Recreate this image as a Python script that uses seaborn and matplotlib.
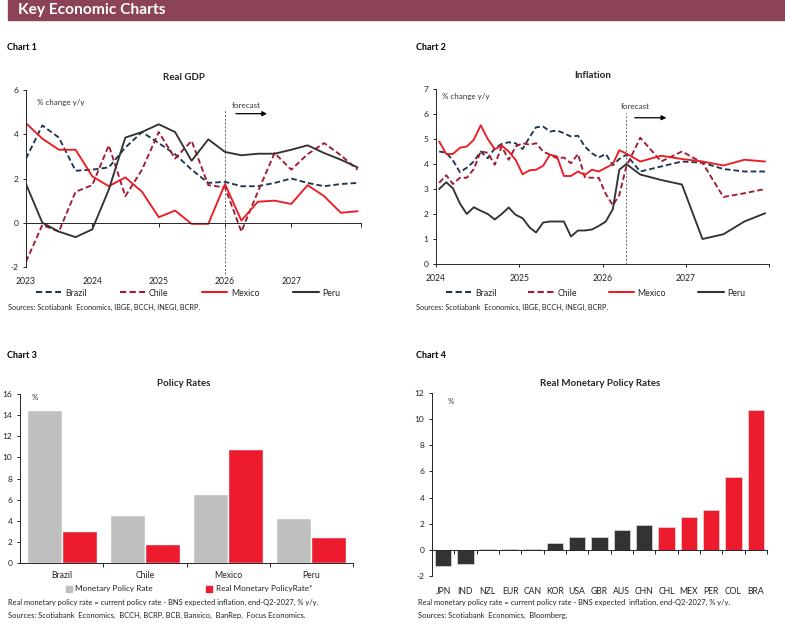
import numpy as np
import pandas as pd
import matplotlib
matplotlib.use('Agg')
import matplotlib.pyplot as plt
import matplotlib.dates as mdates
from matplotlib.lines import Line2D
from matplotlib.patches import Patch, Rectangle
from matplotlib.ticker import FixedLocator, MultipleLocator
import seaborn as sns

# ==========================================
# DATA
# ==========================================
countries = ['Brazil', 'Chile', 'Mexico', 'Peru']

# Chart 1 - Real GDP, % y/y, quarterly (forecast from 2026)
gdp_dates = pd.date_range('2023-01-01', periods=21, freq='QS')
gdp_brazil = [2.9, 4.4, 3.85, 2.35, 2.4, 2.5, 3.4, 4.1, 3.6, 3.1, 2.4, 1.8, 1.85,
              1.65, 1.65, 1.8, 2.0, 1.8, 1.65, 1.75, 1.8]
gdp_chile = [-1.76, -0.1, -0.4, 1.4, 1.7, 3.5, 1.2, 2.4, 4.1, 2.9, 3.7, 1.7, 1.6,
             -0.4, 1.4, 3.15, 2.4, 3.1, 3.6, 3.05, 2.4]
gdp_mexico = [4.5, 3.8, 3.3, 3.3, 2.1, 1.65, 2.05, 1.4, 0.25, 0.55, -0.05, -0.05, 1.75,
              0.1, 0.95, 1.0, 0.85, 1.7, 1.2, 0.45, 0.52]
gdp_peru = [1.75, 0.0, -0.4, -0.65, -0.3, 1.5, 3.85, 4.1, 4.45, 4.1, 2.8, 3.77, 3.2,
            3.05, 3.12, 3.12, 3.3, 3.5, 3.15, 2.85, 2.5]
gdp_forecast_start = '2026-01-01'

# Chart 2 - Inflation, % y/y: monthly history then quarterly forecast
cpi_hist_dates = pd.date_range('2024-01-01', periods=28, freq='MS') + pd.Timedelta(days=14)
cpi_fcst_dates = pd.date_range('2026-06-01', periods=7, freq='3MS') + pd.Timedelta(days=14)
cpi_brazil_hist = [4.5, 4.45, 4.15, 3.67, 3.85, 4.1, 4.5, 4.23, 4.63, 4.8, 4.87, 4.83, 4.6,
                   5.08, 5.47, 5.5, 5.3, 5.34, 5.23, 5.1, 5.13, 4.7, 4.43, 4.26, 4.4, 3.95, 4.2, 4.37]
cpi_brazil_fcst = [3.7, 3.9, 4.1, 4.05, 3.8, 3.7, 3.7]
cpi_chile_hist = [3.25, 3.55, 3.2, 3.45, 3.45, 3.8, 4.5, 4.45, 3.97, 4.7, 4.17, 4.7, 4.83,
                  4.77, 4.83, 4.5, 4.37, 4.23, 4.26, 4.03, 4.4, 3.47, 3.45, 3.45, 2.8, 2.35, 2.75, 3.9]
cpi_chile_fcst = [5.05, 4.1, 4.5, 4.05, 2.68, 2.83, 3.0]
cpi_mexico_hist = [4.9, 4.4, 4.4, 4.65, 4.7, 4.97, 5.55, 5.0, 4.59, 4.74, 4.5, 4.17, 3.59,
                   3.75, 3.77, 3.93, 4.37, 4.3, 3.52, 3.52, 3.7, 3.56, 3.77, 3.7, 3.85, 4.0, 4.55, 4.42]
cpi_mexico_fcst = [4.1, 4.33, 4.2, 4.1, 3.94, 4.17, 4.1]
cpi_peru_hist = [3.0, 3.27, 3.03, 2.42, 2.0, 2.27, 2.13, 2.0, 1.78, 2.0, 2.26, 1.97, 1.83,
                 1.46, 1.26, 1.66, 1.7, 1.7, 1.7, 1.1, 1.34, 1.34, 1.38, 1.52, 1.7, 2.2, 3.77, 4.0]
cpi_peru_fcst = [3.58, 3.36, 3.18, 1.0, 1.19, 1.7, 2.03]
cpi_forecast_start = '2026-04-15'

# Chart 3 - Policy rates, %
policy_rate = [14.5, 4.5, 6.5, 4.25]
real_policy_rate = [3.0, 1.8, 10.75, 2.5]

# Chart 4 - Real monetary policy rates, %
rmpr_codes = ['JPN', 'IND', 'NZL', 'EUR', 'CAN', 'KOR', 'USA', 'GBR', 'AUS', 'CHN',
              'CHL', 'MEX', 'PER', 'COL', 'BRA']
rmpr_values = [-1.2, -1.05, 0.05, 0.05, 0.1, 0.55, 0.95, 1.02, 1.55, 1.93,
               1.78, 2.53, 3.05, 5.6, 10.7]
latam_codes = ['CHL', 'MEX', 'PER', 'COL', 'BRA']

# ==========================================
# STYLE
# ==========================================
sns.set_style('ticks')
plt.rcParams['font.family'] = ['Lato', 'DejaVu Sans']
plt.rcParams['axes.unicode_minus'] = False
plt.rcParams['axes.linewidth'] = 0.7
plt.rcParams['xtick.major.width'] = 0.7
plt.rcParams['ytick.major.width'] = 0.7
plt.rcParams['xtick.minor.width'] = 0.7

NAVY, DKRED, RED, DKGRAY = '#1E3652', '#A31A2E', '#EC1C24', '#333333'
BAR_RED, BAR_GRAY, BAR_DARK = '#EC1C2E', '#BFBFBF', '#333333'
TXT = '#222222'
W, H = 785, 626

fig = plt.figure(figsize=(W / 100, H / 100), dpi=100)


def fx(x):
    return x / W


def fy(y):
    return 1 - y / H


def box(l, t, r, b):
    return [fx(l), fy(b), (r - l) / W, (b - t) / H]


def style_axis(ax):
    sns.despine(ax=ax, top=True, right=True)
    ax.tick_params(axis='y', direction='out', length=2.5, labelsize=6.0, pad=3, colors=TXT)
    ax.tick_params(axis='x', labelsize=6.2, colors=TXT)
    ax.set_xlabel('')
    ax.set_ylabel('')


# header
fig.patches.append(Rectangle((fx(8), fy(20)), 1 - fx(8), 20 / H, transform=fig.transFigure,
                             color='#8C4357', zorder=0))
fig.text(fx(18), fy(10), 'Key Economic Charts', color='white', fontsize=11.2,
         fontweight='bold', va='center')
for label, x, y in [('Chart 1', 7, 47), ('Chart 2', 416, 47), ('Chart 3', 7, 355), ('Chart 4', 416, 355)]:
    fig.text(fx(x), fy(y), label, fontsize=6.5, fontweight='bold', va='center', color='black')

series_style = [('Brazil', NAVY, (0, (3, 1.6))), ('Chile', DKRED, (0, (3, 1.6))),
                ('Mexico', RED, '-'), ('Peru', DKGRAY, '-')]


def line_legend(ax, x0, x1, yc):
    handles = [Line2D([], [], color=c, ls=ls, lw=1.5) for _, c, ls in series_style]
    ax.legend(handles, [n for n, _, _ in series_style], loc='center left',
              bbox_to_anchor=(fx(x0), fy(yc + 6), fx(x1) - fx(x0), 12 / H),
              bbox_transform=fig.transFigure, ncol=4, mode='expand', frameon=False,
              handlelength=2.9, handletextpad=0.4, fontsize=6.3, borderaxespad=0,
              borderpad=0, labelcolor=TXT)


# ==========================================
# CHART 1 - REAL GDP
# ==========================================
ax1 = fig.add_axes(box(26, 90, 361, 267))
for (name, color, ls), vals in zip(series_style, [gdp_brazil, gdp_chile, gdp_mexico, gdp_peru]):
    sns.lineplot(x=gdp_dates, y=vals, ax=ax1, color=color, linestyle=ls, linewidth=1.35)
style_axis(ax1)
ax1.set_ylim(-2, 6)
ax1.yaxis.set_major_locator(MultipleLocator(2))
ax1.set_xlim(pd.Timestamp('2023-01-01'), pd.Timestamp('2028-01-20'))
ax1.xaxis.set_major_locator(mdates.YearLocator())
ax1.xaxis.set_major_formatter(mdates.DateFormatter('%Y'))
# zero line with ticks pointing down, labels at the bottom
ax1.spines['top'].set_visible(True)
ax1.spines['top'].set_position(('data', 0))
ax1.spines['bottom'].set_visible(False)
ax1.tick_params(axis='x', bottom=False, top=True, direction='in', length=3, pad=7)
ax1.set_xticks(ax1.get_xticks()[:-1].tolist() + [mdates.date2num(pd.Timestamp('2028-01-20'))])
ax1.set_xticklabels(['2023', '2024', '2025', '2026', '2027', ''])
fc1 = pd.Timestamp(gdp_forecast_start)
ax1.plot([fc1, fc1], [-2.3, 5.1], ls=(0, (2.5, 2)), color='#555555', lw=0.6, clip_on=False)
ax1.annotate('', xy=(pd.Timestamp('2026-09-05'), 4.93), xytext=(pd.Timestamp('2026-02-15'), 4.93),
             arrowprops=dict(arrowstyle='-|>', color='black', lw=0.9, mutation_scale=7))
ax1.text(pd.Timestamp('2026-02-10'), 5.28, 'forecast', fontsize=5.8, color='#333333', va='center')
fig.text(fx(37), fy(103), '% change y/y', fontsize=5.8, color='#333333', va='center')
fig.text(fx(184), fy(77), 'Real GDP', fontsize=7.0, fontweight='bold', ha='center', va='center')
line_legend(ax1, 36, 340, 293)
fig.text(fx(8), fy(307), 'Sources: Scotiabank  Economics, IBGE, BCCH, INEGI, BCRP.',
         fontsize=5.3, color=TXT, va='center')

# ==========================================
# CHART 2 - INFLATION
# ==========================================
ax2 = fig.add_axes(box(436, 89, 769, 264))
cpi_data = [(cpi_brazil_hist, cpi_brazil_fcst), (cpi_chile_hist, cpi_chile_fcst),
            (cpi_mexico_hist, cpi_mexico_fcst), (cpi_peru_hist, cpi_peru_fcst)]
cpi_dates = cpi_hist_dates.append(cpi_fcst_dates)
for (name, color, ls), (hist, fcst) in zip(series_style, cpi_data):
    sns.lineplot(x=cpi_dates, y=list(hist) + list(fcst), ax=ax2, color=color,
                 linestyle=ls, linewidth=1.35)
style_axis(ax2)
ax2.set_ylim(0, 7)
ax2.yaxis.set_major_locator(MultipleLocator(1))
ax2.set_xlim(pd.Timestamp('2024-01-01'), pd.Timestamp('2028-01-01'))
ax2.xaxis.set_major_locator(mdates.YearLocator())
ax2.xaxis.set_major_formatter(mdates.DateFormatter('%Y'))
ax2.set_xticks(ax2.get_xticks())
ax2.set_xticklabels(['2024', '2025', '2026', '2027', ''])
ax2.tick_params(axis='x', direction='out', length=2.5, pad=5)
fc2 = pd.Timestamp(cpi_forecast_start)
ax2.plot([fc2, fc2], [0, 6.05], ls=(0, (2.5, 2)), color='#555555', lw=0.6)
ax2.annotate('', xy=(pd.Timestamp('2026-10-20'), 5.85), xytext=(pd.Timestamp('2026-05-10'), 5.85),
             arrowprops=dict(arrowstyle='-|>', color='black', lw=0.9, mutation_scale=7))
ax2.text(pd.Timestamp('2026-03-20'), 6.28, 'forecast', fontsize=5.8, color='#333333', va='center')
fig.text(fx(442), fy(97), '% change y/y', fontsize=5.8, color='#333333', va='center')
fig.text(fx(593), fy(76), 'Inflation', fontsize=7.0, fontweight='bold', ha='center', va='center')
line_legend(ax2, 446, 745, 293)
fig.text(fx(416), fy(307), 'Sources: Scotiabank  Economics, IBGE, BCCH, INEGI, BCRP.',
         fontsize=5.3, color=TXT, va='center')

# ==========================================
# CHART 3 - POLICY RATES
# ==========================================
ax3 = fig.add_axes(box(20, 394, 353, 563))
policy_df = pd.DataFrame({
    'Country': countries * 2,
    'Measure': ['Monetary Policy Rate'] * 4 + ['Real Monetary PolicyRate*'] * 4,
    'Rate': policy_rate + real_policy_rate,
})
sns.barplot(data=policy_df, x='Country', y='Rate', hue='Measure', ax=ax3,
            palette=[BAR_GRAY, BAR_RED], saturation=1, width=0.84, gap=0, legend=False)
style_axis(ax3)
ax3.set_ylim(0, 16)
ax3.yaxis.set_major_locator(MultipleLocator(2))
ax3.set_xlim(-0.5, len(countries) - 0.5)
ax3.xaxis.set_minor_locator(FixedLocator(np.arange(len(countries)) + 0.5))
ax3.tick_params(axis='x', which='major', length=0, pad=6)
ax3.tick_params(axis='x', which='minor', direction='out', length=3)
fig.text(fx(32), fy(398), '%', fontsize=5.8, color='#333333', va='center')
fig.text(fx(184), fy(383), 'Policy Rates', fontsize=7.0, fontweight='bold', ha='center', va='center')
ax3.legend([Patch(color=BAR_GRAY), Patch(color=BAR_RED)],
           ['Monetary Policy Rate', 'Real Monetary PolicyRate*'], loc='center left',
           bbox_to_anchor=(fx(66), fy(595), fx(312) - fx(66), 12 / H),
           bbox_transform=fig.transFigure, ncol=2, mode='expand', frameon=False,
           handlelength=0.7, handleheight=0.7, handletextpad=0.4, fontsize=5.9,
           borderaxespad=0, borderpad=0, labelcolor=TXT)
fig.text(fx(8), fy(602), 'Real monetary policy rate = current policy rate - BNS expected inflation, end-Q2-2027, % y/y.',
         fontsize=5.4, color=TXT, va='center')
fig.text(fx(8), fy(615), 'Sources: Scotiabank  Economics,  BCCH, BCRP, BCB, Banxico,  BanRep,  Focus Economics.',
         fontsize=5.4, color=TXT, va='center')

# ==========================================
# CHART 4 - REAL MONETARY POLICY RATES
# ==========================================
ax4 = fig.add_axes(box(432, 393, 767, 576))
bar_colors = [BAR_RED if c in latam_codes else BAR_DARK for c in rmpr_codes]
sns.barplot(x=rmpr_codes, y=rmpr_values, hue=rmpr_codes, palette=bar_colors, ax=ax4,
            saturation=1, width=0.72, legend=False, edgecolor='#dcdcdc', linewidth=0.5)
style_axis(ax4)
ax4.set_ylim(-2, 12)
ax4.yaxis.set_major_locator(MultipleLocator(2))
ax4.set_xlim(-0.5, len(rmpr_codes) - 0.5)
ax4.spines['top'].set_visible(True)
ax4.spines['top'].set_position(('data', 0))
ax4.spines['bottom'].set_visible(False)
ax4.xaxis.set_minor_locator(FixedLocator(np.arange(len(rmpr_codes)) + 0.5))
ax4.tick_params(axis='x', which='major', bottom=False, top=False, length=0, pad=8)
ax4.tick_params(axis='x', which='minor', bottom=False, top=True, direction='in', length=3)
fig.text(fx(448), fy(402), '%', fontsize=5.8, color='#333333', va='center')
fig.text(fx(600), fy(383), 'Real Monetary Policy Rates', fontsize=7.0, fontweight='bold',
         ha='center', va='center')
fig.text(fx(418), fy(602), 'Real monetary policy rate = current policy rate - BNS expected  inflation, end-Q2-2027, % y/y.',
         fontsize=5.4, color=TXT, va='center')
fig.text(fx(418), fy(615), 'Sources: Scotiabank  Economics,  Bloomberg.',
         fontsize=5.4, color=TXT, va='center')

fig.savefig('out.png', dpi=100)
